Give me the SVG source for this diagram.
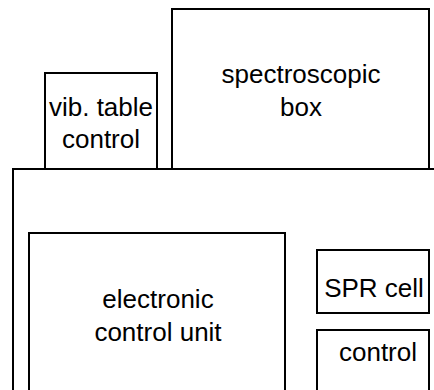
<svg xmlns="http://www.w3.org/2000/svg" width="434" height="390" viewBox="0 0 434 390">
<style>
.b{fill:#fff;stroke:#000;stroke-width:2}
.t{font-family:"Liberation Sans",Arial,sans-serif;font-size:26px;fill:#000;text-anchor:middle}
</style>
<rect width="434" height="390" fill="#fff"/>
<g id="instrument">
<rect class="b" x="13" y="169" width="500" height="300"/>
</g>
<g id="vib-table-control">
<rect class="b" x="45" y="73" width="112" height="96"/>
<text class="t" x="101" y="116">vib. table</text>
<text class="t" x="101" y="148">control</text>
</g>
<g id="spectroscopic-box">
<rect class="b" x="172" y="9" width="257" height="160"/>
<text class="t" x="301" y="83">spectroscopic</text>
<text class="t" x="301" y="116">box</text>
</g>
<g id="electronic-control-unit">
<rect class="b" x="29" y="233" width="256" height="200"/>
<text class="t" x="158" y="308">electronic</text>
<text class="t" x="158" y="341">control unit</text>
</g>
<g id="spr-cell">
<rect class="b" x="317" y="250" width="112" height="63"/>
<text class="t" x="374" y="297">SPR cell</text>
</g>
<g id="control">
<rect class="b" x="317" y="330" width="112" height="100"/>
<text class="t" x="378" y="361">control</text>
</g>
<g id="connectors"/>
</svg>
